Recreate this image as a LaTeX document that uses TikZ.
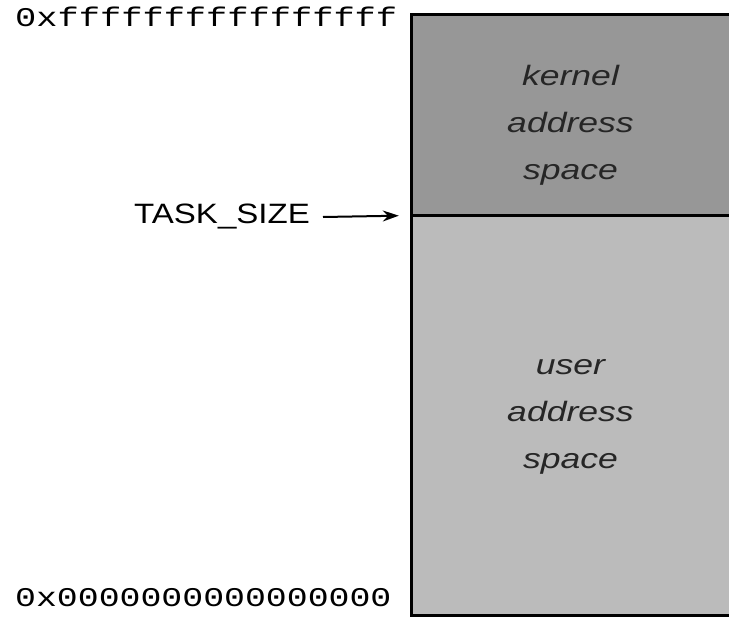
\documentclass[tikz,border=0pt]{standalone}
\usepackage{fontspec}
\usepackage{graphicx}
\setmainfont{Liberation Sans}
\newfontfamily\hexfont{Liberation Mono}
\usetikzlibrary{arrows.meta,positioning}

\definecolor{kernelgray}{HTML}{979797}
\definecolor{usergray}{HTML}{BBBBBB}
\newcommand{\wide}[1]{\scalebox{1.27}[1]{#1}}

\tikzset{
	region/.style={inner sep=0pt, minimum width=317pt},
	regiontext/.style={inner sep=0pt, align=center,
		font=\itshape\fontsize{28}{47}\selectfont, text=black!85},
	hexlabel/.style={inner sep=0pt, anchor=base west,
		font=\hexfont\fontsize{27}{27}\selectfont},
	boxline/.style={line width=3pt},
	pointer/.style={line width=2pt, -{Stealth[length=16pt,width=11pt]}}
}

\begin{document}
\begin{tikzpicture}[x=1pt,y=-1pt]
\useasboundingbox (0,0) rectangle (729,617);

\node[region, fill=kernelgray, minimum height=200.5pt] (kernel) at (570.5,115.25) {};
\node[region, fill=usergray, minimum height=399.5pt] (user) at (570.5,415.25) {};
\node[regiontext] (kerneltext) at ([yshift=-10pt]kernel.center)
	{\wide{kernel}\\\wide{address}\\\wide{space}};
\node[regiontext] (usertext) at ([yshift=-2pt]user.center)
	{\wide{user}\\\wide{address}\\\wide{space}};

\draw[boxline] (kernel.north east) -- (kernel.north west) -- (user.south west) -- (user.south east);
\draw[boxline] (kernel.south west) -- (kernel.south east);

\node[hexlabel] (top) at (15,27) {\scalebox{1.31}[1]{0xffffffffffffffff}};
\node[hexlabel] (bottom) at (15,607) {\scalebox{1.29}[1]{0x0000000000000000}};

\node[inner sep=0pt, anchor=base east, font=\fontsize{28}{28}\selectfont] (tasksize) at (310,224)
	{\scalebox{1.18}[1]{TASK\_SIZE}};
\draw[pointer] ([xshift=13pt]tasksize.east) -- ([xshift=-13pt]kernel.south west);

\end{tikzpicture}
\end{document}
